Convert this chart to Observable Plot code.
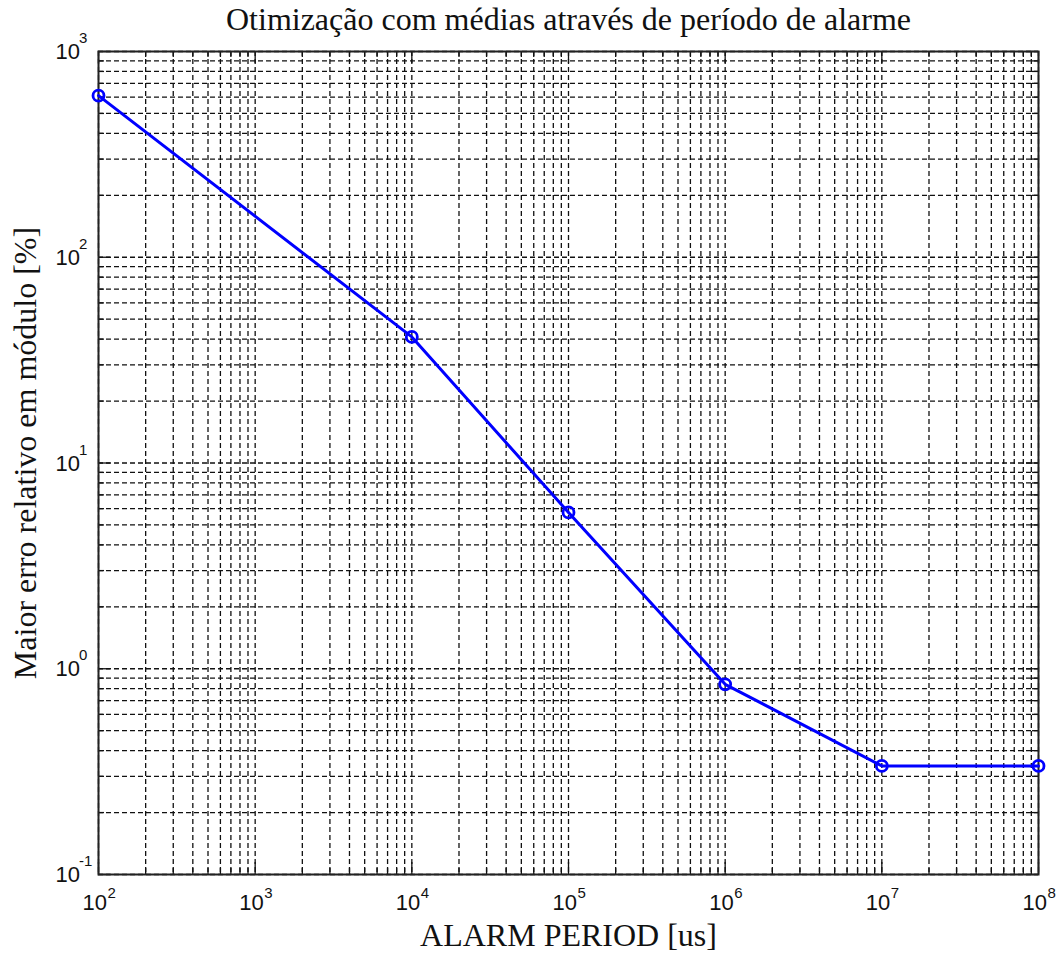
<!DOCTYPE html>
<html>
<head>
<meta charset="utf-8">
<script src="https://cdn.jsdelivr.net/npm/d3@7"></script>
<script src="https://cdn.jsdelivr.net/npm/@observablehq/plot@0.6"></script>
<style>
  html, body { margin: 0; padding: 0; background: #fff; }
</style>
</head>
<body>
<div id="chart"></div>
<script>
// Alarm period (µs) and the largest relative error in magnitude (%)
const alarmPeriod = [1e2, 1e4, 1e5, 1e6, 1e7, 1e8];
const maxRelError = [610, 41, 5.75, 0.84, 0.337, 0.337];

// Decade ticks and their exponents
const xDecades = [1e2, 1e3, 1e4, 1e5, 1e6, 1e7, 1e8];
const xExponents = ["2", "3", "4", "5", "6", "7", "8"];
const yDecades = [1e-1, 1e0, 1e1, 1e2, 1e3];
const yExponents = ["-1", "0", "1", "2", "3"];
const minorSteps = [2, 3, 4, 5, 6, 7, 8, 9];

const titleText = "Otimização com médias através de período de alarme";
const xLabel = "ALARM PERIOD [us]";
const yLabel = "Maior erro relativo em módulo [%]";

const minorOf = (decades) => decades.slice(0, -1).flatMap(d => minorSteps.map(s => d * s));
const xMinor = minorOf(xDecades);
const yMinor = minorOf(yDecades);
const xAll = xDecades.concat(xMinor);
const yAll = yDecades.concat(yMinor);

const W = 1057, H = 953;
const mL = 98, mR = 19, mT = 51, mB = 79;
const frameW = W - mL - mR, frameH = H - mT - mB;
const majorLen = 12, minorLen = 6;

const serif = "'Liberation Serif', 'Times New Roman', serif";
const sans = "'Liberation Sans', Arial, sans-serif";
const ink = "#111";
const dash = "5,3";

// inward tick marks on all four sides of the box
const ticksX = (values, len) => [
  Plot.tickX(values, {x: d => d, insetTop: frameH - len, stroke: ink, strokeWidth: 1.3}),
  Plot.tickX(values, {x: d => d, insetBottom: frameH - len, stroke: ink, strokeWidth: 1.3})
];
const ticksY = (values, len) => [
  Plot.tickY(values, {y: d => d, insetRight: frameW - len, stroke: ink, strokeWidth: 1.3}),
  Plot.tickY(values, {y: d => d, insetLeft: frameW - len, stroke: ink, strokeWidth: 1.3})
];

const chart = Plot.plot({
  width: W,
  height: H,
  marginLeft: mL,
  marginRight: mR,
  marginTop: mT,
  marginBottom: mB,
  style: {background: "#fff", overflow: "visible"},
  x: {type: "log", domain: [1e2, 1e8], axis: null},
  y: {type: "log", domain: [1e-1, 1e3], axis: null},
  marks: [
    // dashed grid at every decade and sub-decade
    Plot.ruleX(xAll, {x: d => d, stroke: ink, strokeWidth: 1.3, strokeDasharray: dash}),
    Plot.ruleY(yAll, {y: d => d, stroke: ink, strokeWidth: 1.3, strokeDasharray: dash}),
    ...ticksX(xDecades, majorLen),
    ...ticksX(xMinor, minorLen),
    ...ticksY(yDecades, majorLen),
    ...ticksY(yMinor, minorLen),
    Plot.frame({stroke: "#222", strokeWidth: 2}),

    // series
    Plot.line(alarmPeriod, {x: d => d, y: (d, i) => maxRelError[i], stroke: "#0000ff", strokeWidth: 3}),
    Plot.dot(alarmPeriod, {x: d => d, y: (d, i) => maxRelError[i], r: 5.5, stroke: "#0000ff", strokeWidth: 2.8, fill: "none"}),

    // decade labels written as 10 with a raised exponent
    Plot.text(xDecades, {x: d => d, text: () => "10", frameAnchor: "bottom", lineAnchor: "bottom",
      textAnchor: "end", dx: 8.5, dy: 35, fontSize: 22, fontFamily: sans, fill: ink}),
    Plot.text(xDecades, {x: d => d, text: (d, i) => xExponents[i], frameAnchor: "bottom", lineAnchor: "bottom",
      textAnchor: "start", dx: 9, dy: 23, fontSize: 15, fontFamily: sans, fill: ink}),
    Plot.text(yDecades, {y: d => d, text: () => "10", frameAnchor: "left", lineAnchor: "bottom",
      textAnchor: "start", dx: -43, dy: 7.5, fontSize: 22, fontFamily: sans, fill: ink}),
    Plot.text(yDecades, {y: d => d, text: (d, i) => yExponents[i], frameAnchor: "left", lineAnchor: "bottom",
      textAnchor: "start", dx: -19.5, dy: -8.5, fontSize: 15, fontFamily: sans, fill: ink}),

    // title and axis labels
    Plot.text([titleText], {frameAnchor: "top", lineAnchor: "bottom", textAnchor: "middle", dy: -21.5,
      fontSize: 32, fontFamily: serif, fill: ink}),
    Plot.text([xLabel], {frameAnchor: "bottom", lineAnchor: "bottom", textAnchor: "middle", dy: 71,
      fontSize: 32, fontFamily: serif, fill: ink}),
    Plot.text([yLabel], {frameAnchor: "left", lineAnchor: "bottom", textAnchor: "middle", rotate: -90,
      dx: -62.5, dy: -10, fontSize: 32, fontFamily: serif, fill: ink})
  ]
});

document.getElementById("chart").appendChild(chart);
</script>
</body>
</html>
